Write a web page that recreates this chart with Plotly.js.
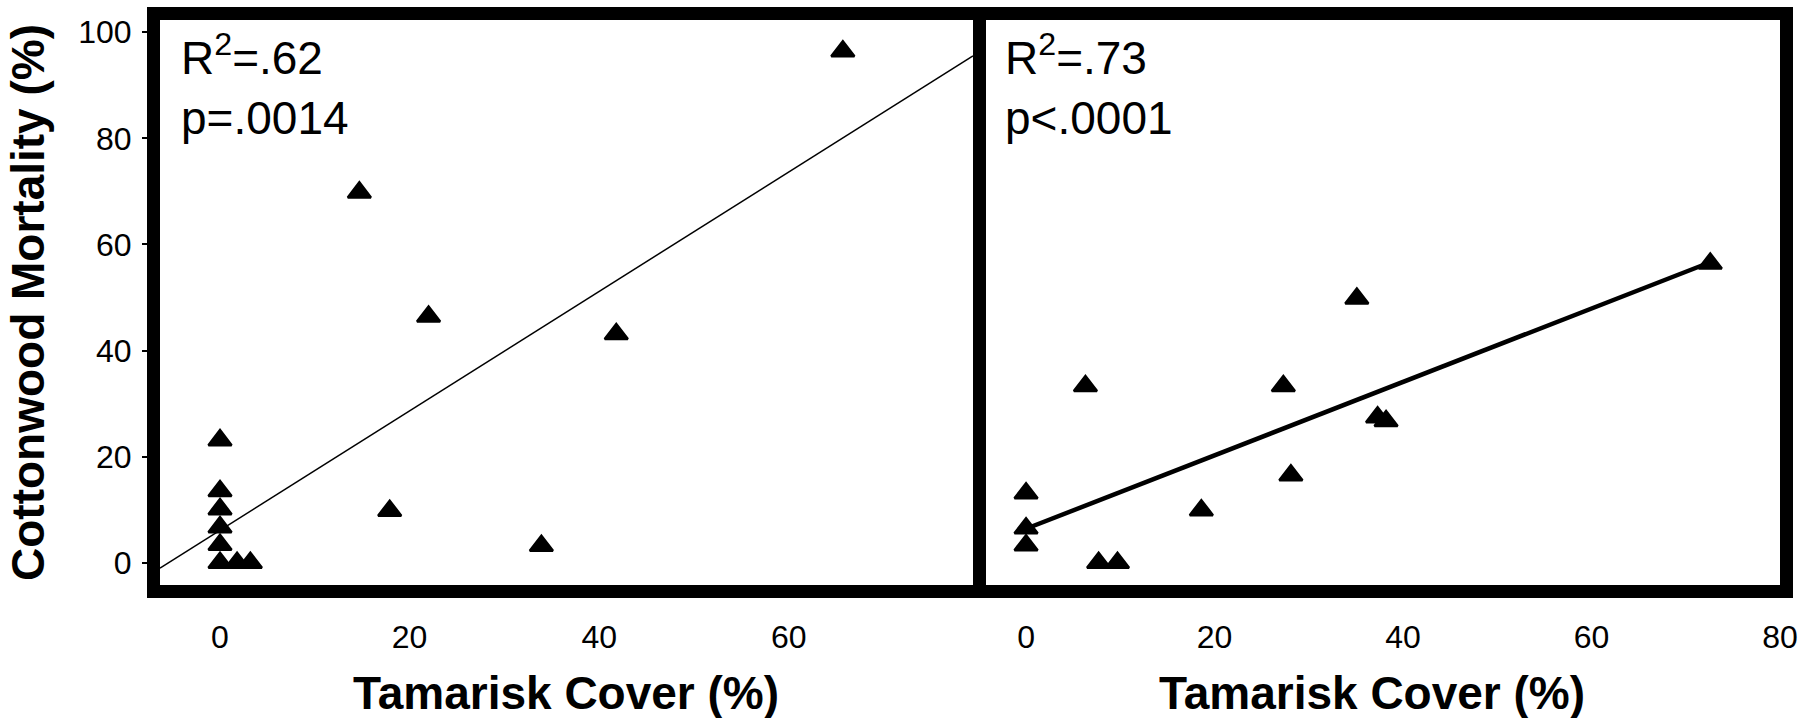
<!DOCTYPE html>
<html><head><meta charset="utf-8">
<script src="https://cdn.plot.ly/plotly-3.0.1.min.js"></script>
<style>html,body{margin:0;padding:0;background:#fff}#chart{width:1817px;height:718px}</style>
</head><body><div id="chart"></div>
<script>
// Left panel data
const leftCover = [0, 0, 0, 0, 0, 0, 1.8, 3.2, 14.7, 22.0, 41.8, 17.9, 33.9, 65.7];
const leftMortality = [23.1, 13.5, 10.1, 6.7, 3.4, 0, 0, 0, 69.8, 46.4, 43.1, 9.8, 3.2, 96.4];
// Right panel data
const rightCover = [6.3, 27.3, 37.3, 38.2, 28.1, 18.6, 0, 0, 0, 7.7, 9.7, 35.1, 72.6];
const rightMortality = [33.3, 33.3, 27.4, 26.7, 16.5, 9.9, 13.1, 6.5, 3.3, 0, 0, 49.8, 56.4];
// Regression fits: [intercept, slope]
const leftFit = [6.1, 1.126];
const rightFit = [6.4, 0.692];
// Ticks and labels
const xTicks = [0, 20, 40, 60, 80];
const yTicks = [0, 20, 40, 60, 80, 100];
const leftStats = ['R<sup>2</sup>=.62', 'p=.0014'];
const rightStats = ['R<sup>2</sup>=.73', 'p&lt;.0001'];
const xTitle = 'Tamarisk Cover (%)';
const yTitle = 'Cottonwood Mortality (%)';

const FONT = 'Liberation Sans, Arial, sans-serif';
const leftXRange = [-6.33, 79.43];
const rightXRange = [-4.25, 80];
const yRange = [-4.2, 102.3];

const fitLine = (fit, xs) => xs.map(x => fit[0] + fit[1] * x);
const rightLineX = [Math.min(...rightCover), Math.max(...rightCover)];

const markerStyle = {symbol: 'triangle-up', size: 20, color: '#000', line: {color: '#000', width: 2.5}};

const traces = [
  {x: leftXRange, y: fitLine(leftFit, leftXRange), mode: 'lines', line: {color: '#000', width: 1.5},
   xaxis: 'x', yaxis: 'y', hoverinfo: 'skip'},
  {x: leftCover, y: leftMortality, mode: 'markers', marker: markerStyle, xaxis: 'x', yaxis: 'y'},
  {x: rightLineX, y: fitLine(rightFit, rightLineX), mode: 'lines', line: {color: '#000', width: 4.5},
   xaxis: 'x2', yaxis: 'y2', hoverinfo: 'skip'},
  {x: rightCover, y: rightMortality, mode: 'markers', marker: markerStyle, xaxis: 'x2', yaxis: 'y2'}
];

const frame = {showline: true, mirror: true, linewidth: 13, linecolor: '#000', showgrid: false, zeroline: false};
const tickFont = {family: FONT, size: 32, color: '#000'};
const titleFont = {family: FONT, size: 46, color: '#000', weight: 'bold'};
const statFont = {family: FONT, size: 46, color: '#000'};

const xAxisBase = Object.assign({}, frame, {
  tickmode: 'array', tickvals: xTicks, ticktext: xTicks.map(String), ticks: '',
  tickfont: tickFont, ticklabelstandoff: 12
});

const layout = {
  width: 1817, height: 718,
  margin: {l: 160, r: 37, t: 20, b: 133},
  paper_bgcolor: '#fff', plot_bgcolor: '#fff',
  showlegend: false,
  font: {family: FONT, color: '#000'},
  xaxis: Object.assign({}, xAxisBase, {domain: [0, 0.50185], range: leftXRange, anchor: 'y'}),
  xaxis2: Object.assign({}, xAxisBase, {domain: [0.50988, 1], range: rightXRange, anchor: 'y2'}),
  yaxis: Object.assign({}, frame, {
    range: yRange, tickmode: 'array', tickvals: yTicks, ticktext: yTicks.map(String),
    ticks: 'outside', ticklen: 5, tickwidth: 2, tickcolor: '#000', tickfont: tickFont,
    ticklabelstandoff: 4,
    title: {text: '<b>' + yTitle + '</b>', font: titleFont, standoff: 25}, anchor: 'x'
  }),
  yaxis2: Object.assign({}, frame, {range: yRange, showticklabels: false, ticks: '', anchor: 'x2'}),
  annotations: [
    {xref: 'x domain', yref: 'y domain', x: 0, y: 1, xanchor: 'left', yanchor: 'top',
     xshift: 19, yshift: -4, align: 'left', showarrow: false,
     text: leftStats.join('<br>'), font: statFont},
    {xref: 'x2 domain', yref: 'y2 domain', x: 0, y: 1, xanchor: 'left', yanchor: 'top',
     xshift: 17, yshift: -4, align: 'left', showarrow: false,
     text: rightStats.join('<br>'), font: statFont},
    {xref: 'paper', yref: 'paper', x: 0.2506, y: -0.192, xanchor: 'center', yanchor: 'middle',
     showarrow: false, text: '<b>' + xTitle + '</b>', font: titleFont},
    {xref: 'paper', yref: 'paper', x: 0.748, y: -0.192, xanchor: 'center', yanchor: 'middle',
     showarrow: false, text: '<b>' + xTitle + '</b>', font: titleFont}
  ]
};

Plotly.newPlot('chart', traces, layout, {displayModeBar: false, staticPlot: true});
</script>
</body></html>
